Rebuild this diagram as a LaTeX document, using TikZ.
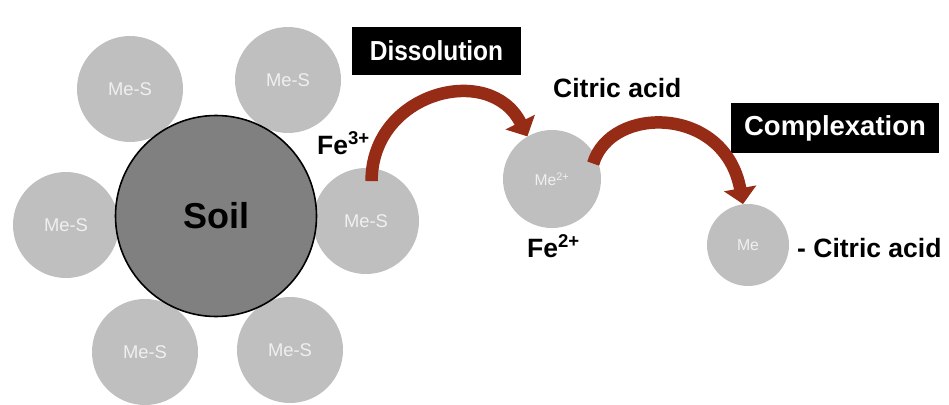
\documentclass[tikz,border=0pt]{standalone}
\usepackage{fontspec}
\setmainfont{Liberation Sans}
\usetikzlibrary{arrows.meta,positioning}
\definecolor{msgray}{RGB}{191,191,191}
\definecolor{soilgray}{RGB}{128,128,128}
\definecolor{rust}{RGB}{150,43,22}

\begin{document}
\begin{tikzpicture}[x=1pt,y=-1pt,
  ms/.style={circle,fill=msgray,inner sep=0pt,minimum size=#1,text=white!94!black},
  lbl/.style={inner sep=0pt,anchor=base west,font=\bfseries\fontsize{26.5}{30}\selectfont},
  tag/.style={fill=black,text=white,inner sep=0pt},
  curvy/.style={draw=rust,line width=12.5pt,-{Triangle[width=32pt,length=16pt]}}]
\useasboundingbox (0,0) rectangle (949,404);
% grains round the soil particle
\node[ms=106,font=\fontsize{18.4}{20}\selectfont] (c1) at (130,89) {Me-S};
\node[ms=106,font=\fontsize{18.4}{20}\selectfont] (c2) at (288,80) {Me-S};
\node[ms=106,font=\fontsize{18.4}{20}\selectfont] (c3) at (366,221) {Me-S};
\node[ms=106,font=\fontsize{18.4}{20}\selectfont] (c4) at (66,225) {Me-S};
\node[ms=106,font=\fontsize{18.4}{20}\selectfont] (c5) at (145,352) {Me-S};
\node[ms=106,font=\fontsize{18.4}{20}\selectfont] (c6) at (290,350) {Me-S};
\node[circle,draw=black,line width=1.6pt,fill=soilgray,inner sep=0pt,minimum size=201,
  font=\bfseries\fontsize{36}{40}\selectfont] (soil) at (216,216) {Soil};
% dissolved and complexed metal
\node[ms=98,font=\fontsize{15.6}{18}\selectfont] (me2) at (552,179) {Me\textsuperscript{2+}};
\node[ms=82,font=\fontsize{15.8}{18}\selectfont] (me) at (748,245) {Me};
% labels
\node[tag,minimum width=169,minimum height=48,
  font=\bfseries\fontsize{27.5}{30}\selectfont\addfontfeature{FakeStretch=0.89}] (diss) at (436.5,51) {Dissolution};
\node[tag,minimum width=208,minimum height=50,
  font=\bfseries\fontsize{27.5}{30}\selectfont] (comp) at (835,128) {Complexation};
\node[lbl] (fe3) at (317,154) {Fe\textsuperscript{3+}};
\node[lbl] (cit) at (553,97) {Citric acid};
\node[lbl] (fe2) at (527,257) {Fe\textsuperscript{2+}};
\node[lbl] (mcit) at (797,257) {- Citric acid};
% curved arrows
\draw[curvy,shorten <=-13pt] (c3.84) .. controls +(0,-76) and +(-37.5,-74.6) .. (me2.120);
\draw[curvy,shorten <=-8pt] (me2.28) .. controls +(15,-51) and +(-18,-99) .. (me.97);
\end{tikzpicture}
\end{document}
